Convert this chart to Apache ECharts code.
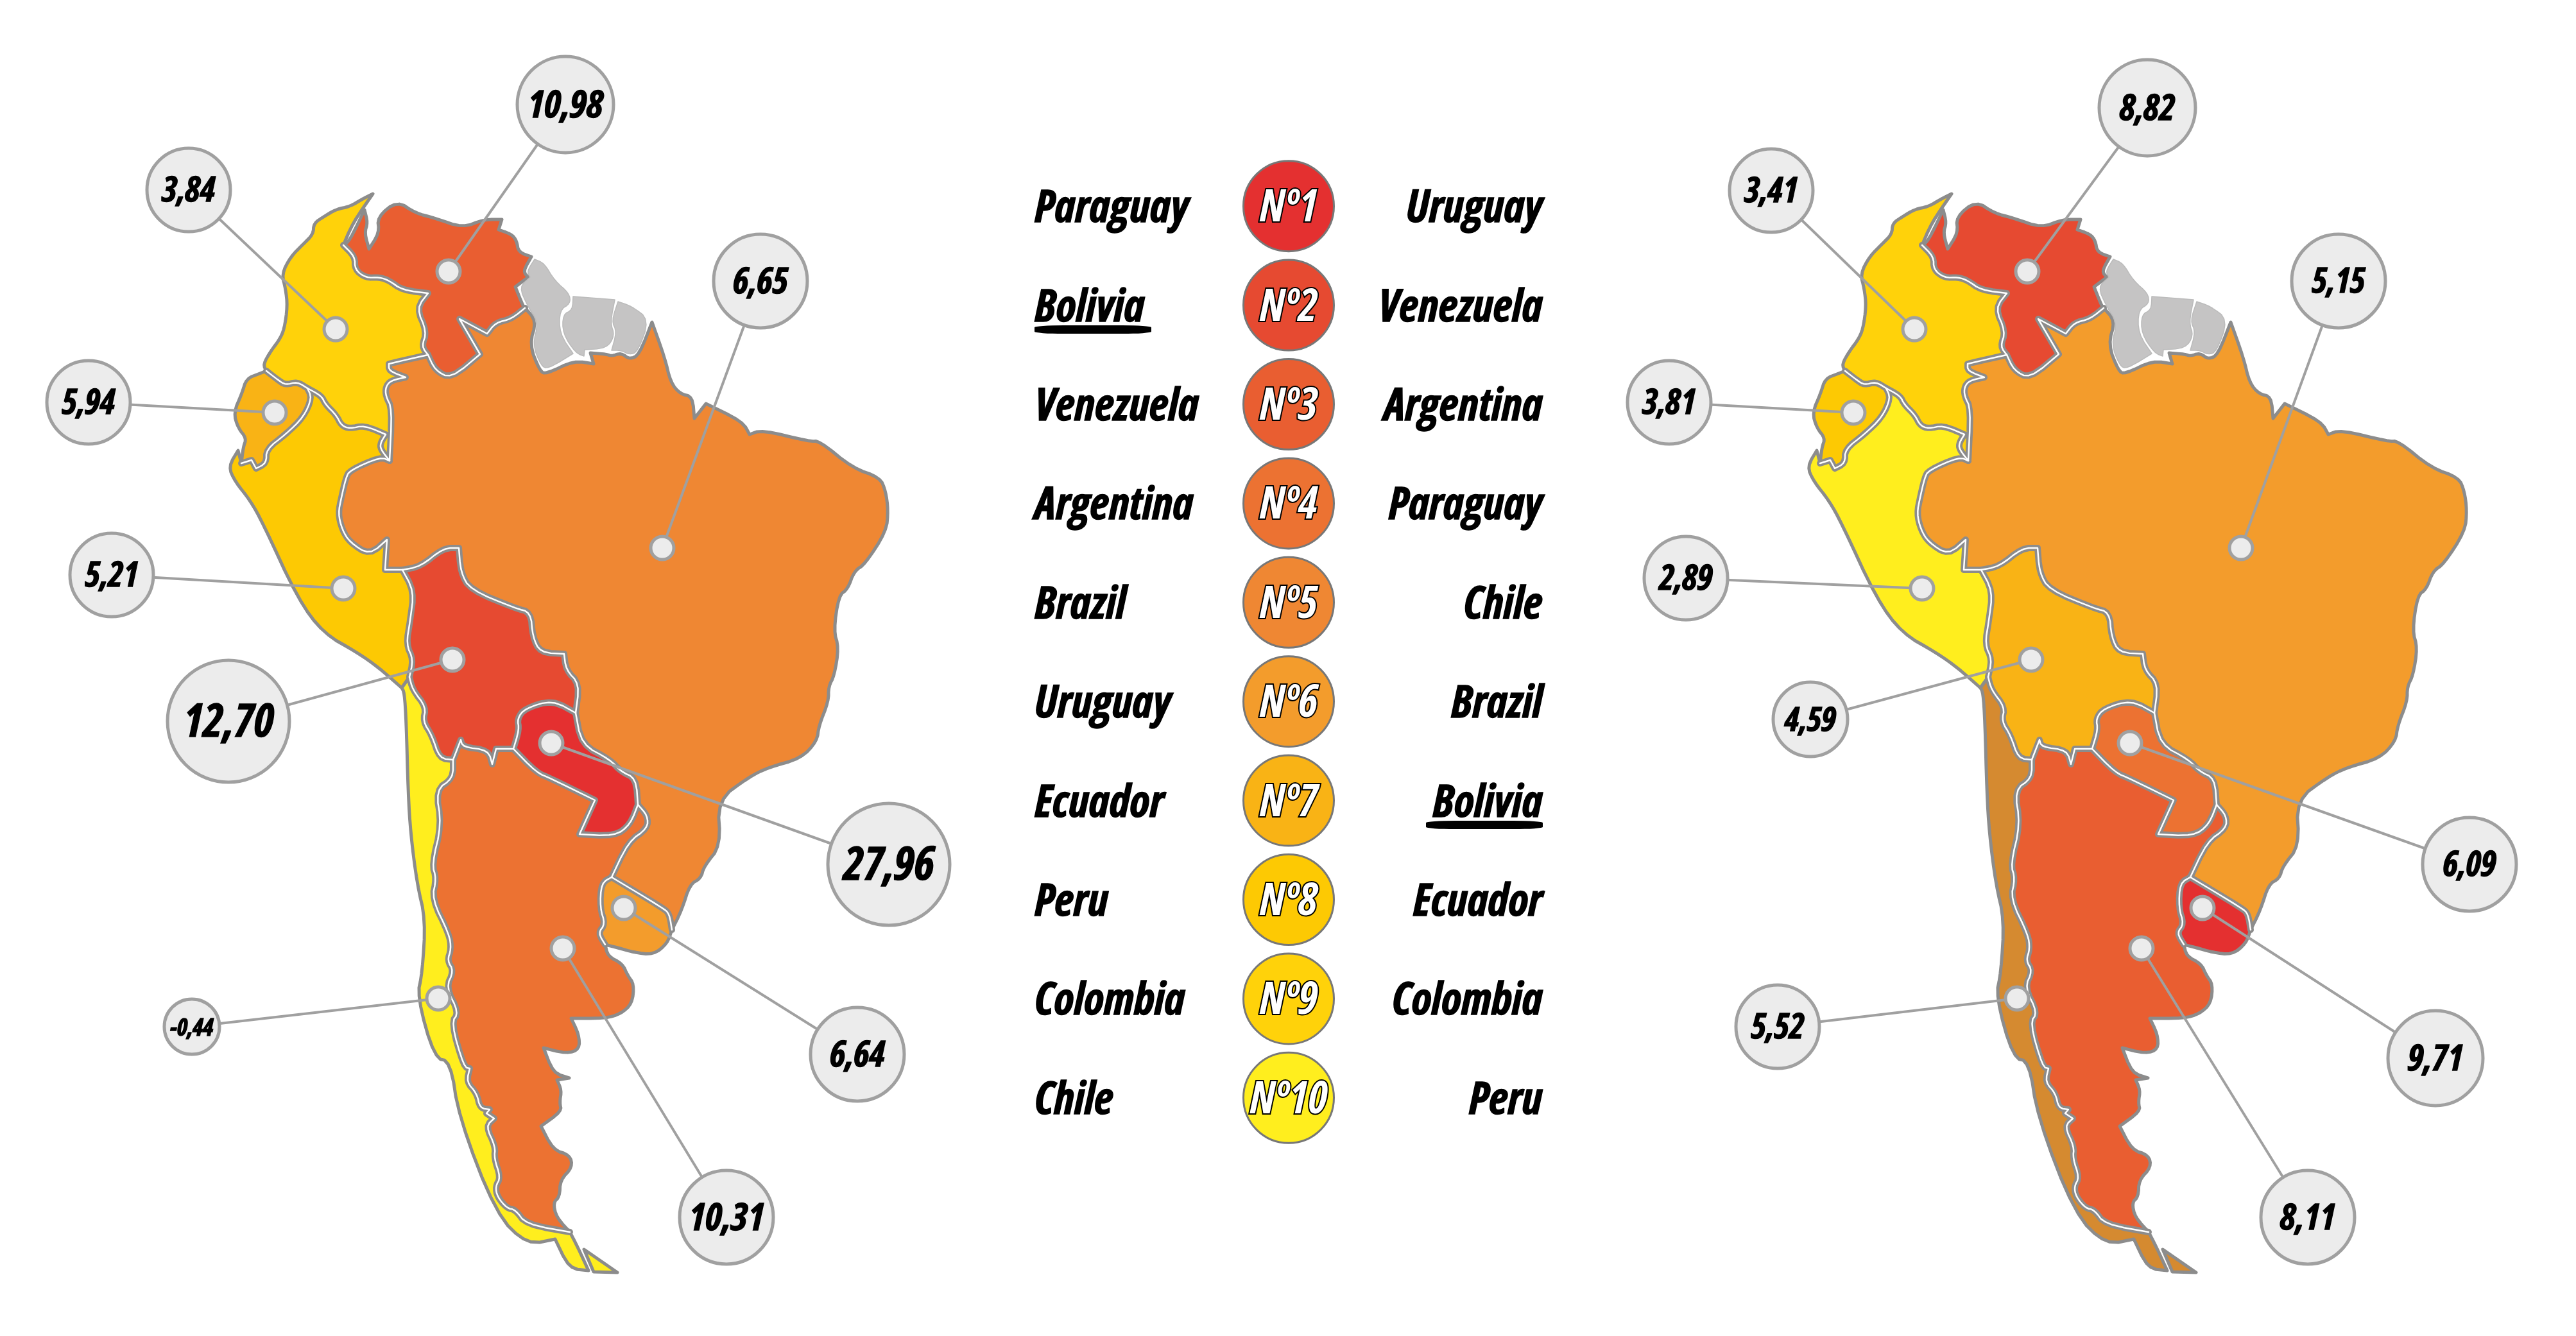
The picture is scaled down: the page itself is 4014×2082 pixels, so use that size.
<!DOCTYPE html>
<html>
<head>
<meta charset="utf-8">
<style>html,body{margin:0;padding:0;background:#fff}#c{width:4014px;height:2082px}</style>
<script src="https://cdn.jsdelivr.net/npm/echarts@6/dist/echarts.min.js"></script>
</head>
<body>
<div id="c"></div>
<script>
// ---- DATA ----
const countries   = ['Paraguay','Bolivia','Venezuela','Argentina','Brazil','Uruguay','Ecuador','Peru','Colombia','Chile'];
const valuesLeft  = [27.96,12.70,10.98,10.31,6.65,6.64,5.94,5.21,3.84,-0.44];
const valuesRight = [6.09,4.59,8.82,8.11,5.15,9.71,3.81,2.89,3.41,5.52];
const rankLabels  = ['Nº1','Nº2','Nº3','Nº4','Nº5','Nº6','Nº7','Nº8','Nº9','Nº10'];
const highlighted = 'Bolivia';

// ---- COLOURS ----
const rankColors = ['#E43030','#E64A31','#E95E31','#EC7232','#EF8733','#F39C2C','#F9B315','#FDC903','#FFD20A','#FFEE1E'];
const noDataColor = '#C5C4C4';
const overridesRight = {Chile:'#D58A30'};

// ---- CALLOUT LAYOUT (map pixels: x, y, diameter, font size) ----
const dotPositions = {Paraguay:[859,1158],Bolivia:[705,1028],Venezuela:[699,423],Argentina:[877,1478],Brazil:[1032,854],Uruguay:[972,1415],Ecuador:[428,643],Peru:[535,917],Colombia:[523,513],Chile:[683,1556]};
const calloutsLeft = {Paraguay:[1385,1347,190,72],Bolivia:[356,1124,190,72],Venezuela:[881,163,150,60],Argentina:[1132,1897,146,60],Brazil:[1185,438,146,56],Uruguay:[1336,1643,146,56],Ecuador:[138,627,130,54],Peru:[174,896,130,54],Colombia:[294,296,130,54],Chile:[299,1600,86,37]};
const calloutsRight = {Paraguay:[1388,1347,146,54],Bolivia:[361,1121,116,52],Venezuela:[886,168,150,56],Argentina:[1136,1897,146,56],Brazil:[1184,438,146,54],Uruguay:[1335,1649,148,56],Ecuador:[141,627,130,54],Peru:[167,901,130,54],Colombia:[300,297,130,54],Chile:[310,1600,130,54]};
const mapOffsetRight = 2460;

// ---- MAP OUTLINES (shared borders, map pixels) ----
const rawArcs = {
 colCoast:[[581,302],[565,310],[545,322],[524,326],[504,338],[489,348],[488,365],[473,380],[453,400],[439,427],[445,450],[448,477],[443,513],[435,530],[422,547],[410,568],[415,578]],
 colGulf:[[581,302],[550,347],[535,382]],
 colVen:[[535,382],[553,400],[553,420],[570,433],[591,432],[606,437],[627,452],[667,457],[649,480],[665,517],[657,540],[667,553]],
 colBrazil:[[667,553],[627,562],[606,567],[606,578],[632,588],[609,593],[601,603],[601,617],[611,637],[607,718]],
 colPeru:[[479,605],[501,617],[507,630],[524,647],[532,663],[545,668],[568,663],[601,677],[593,690],[593,700],[607,718]],
 colEcu:[[415,578],[433,592],[445,600],[463,595],[479,605]],
 ecuCoast:[[415,578],[405,582],[384,590],[377,613],[364,643],[371,667],[384,683],[379,697],[376,722]],
 ecuPeru:[[376,722],[392,717],[399,730],[415,722],[415,700],[445,677],[473,650],[486,620],[479,605]],
 peruCoast:[[376,722],[371,702],[356,727],[366,750],[390,780],[410,816],[464,933],[504,987],[557,1017],[591,1041],[626,1072]],
 peruBrazil:[[607,718],[593,712],[545,733],[539,745],[532,775],[527,800],[533,825],[545,845],[576,865],[603,841],[600,888],[627,888]],
 peruBolivia:[[627,888],[645,921],[639,968],[633,1004],[644,1028],[638,1055]],
 peruChile:[[638,1055],[626,1072]],
 bolChile:[[638,1055],[643,1075],[664,1102],[659,1124],[673,1146],[685,1182],[706,1184]],
 bolBrazil:[[627,888],[655,883],[691,854],[715,854],[718,892],[733,919],[803,948],[827,954],[830,992],[842,1017],[879,1019],[882,1044],[903,1066],[897,1111]],
 bolPar:[[800,1167],[809,1137],[806,1120],[818,1104],[861,1091],[897,1111]],
 bolArg:[[706,1184],[718,1153],[721,1164],[761,1169],[767,1191],[773,1167],[800,1167]],
 parBrazil:[[897,1111],[906,1160],[951,1184],[967,1202],[991,1213],[994,1254]],
 parArg:[[800,1167],[836,1204],[858,1213],[927,1247],[903,1300],[958,1303],[982,1285],[994,1254]],
 argBrazil:[[994,1254],[1009,1271],[1009,1291],[979,1312],[953,1367]],
 uruBrazil:[[953,1367],[1033,1415],[1043,1424],[1047,1449]],
 uruArg:[[953,1367],[937,1376],[935,1415],[943,1440],[932,1454],[943,1472]],
 uruCoast:[[943,1472],[963,1477],[987,1484],[1018,1488],[1040,1470],[1047,1449]],
 brazilCoast:[[1047,1449],[1062,1419],[1075,1378],[1092,1369],[1097,1350],[1123,1318],[1118,1247],[1167,1211],[1197,1196],[1248,1182],[1273,1155],[1276,1131],[1291,1093],[1291,1070],[1300,1053],[1307,1009],[1299,983],[1307,928],[1321,918],[1331,890],[1348,879],[1381,828],[1384,795],[1380,765],[1371,744],[1328,729],[1277,687],[1261,688],[1187,670],[1168,677],[1157,657],[1100,629],[1082,652],[1079,618],[1060,614],[1045,596],[1036,558],[1016,502]],
 brazilGuianas:[[1016,502],[996,553],[981,560],[968,550],[953,555],[945,552],[920,550],[925,567],[894,562],[851,583],[841,578],[825,537],[836,500],[818,480]],
 venBrazil:[[818,480],[797,497],[772,503],[759,520],[716,497],[748,552],[703,590],[678,577],[667,553]],
 venCoast:[[535,382],[545,375],[568,327],[573,347],[568,363],[575,388],[591,363],[588,338],[619,313],[647,332],[678,340],[721,355],[754,342],[782,342],[777,358],[797,365],[805,375],[808,393],[828,400],[815,423],[823,432],[803,447],[815,477],[818,480]],
 argCoast:[[943,1472],[947,1490],[970,1502],[978,1520],[988,1534],[985,1564],[967,1580],[943,1587],[890,1587],[902,1612],[903,1635],[883,1642],[847,1633],[862,1672],[887,1680],[868,1683],[875,1699],[872,1718],[875,1732],[843,1755],[862,1792],[888,1800],[892,1819],[873,1839],[872,1865],[862,1874],[867,1897],[888,1920]],
 chileArg:[[706,1184],[706,1213],[679,1231],[688,1285],[673,1347],[680,1369],[673,1401],[700,1456],[703,1479],[697,1497],[707,1513],[695,1539],[715,1578],[703,1594],[723,1663],[732,1665],[727,1686],[743,1704],[748,1727],[763,1729],[758,1735],[770,1743],[757,1755],[772,1787],[770,1805],[780,1835],[772,1849],[775,1865],[790,1883],[803,1885],[820,1908],[888,1920]],
 chileCoast:[[626,1072],[630,1079],[633,1124],[636,1236],[640,1300],[650,1378],[663,1433],[658,1516],[650,1553],[677,1649],[702,1654],[715,1741],[773,1892],[822,1940],[865,1931],[887,1977],[917,1980],[900,1943],[888,1920]]
};
const regionArcs = {
 Colombia:['colCoast','colEcu','colPeru','-colBrazil','-colVen','-colGulf'],
 Venezuela:['venCoast','venBrazil','-colVen'],
 Ecuador:['ecuCoast','ecuPeru','-colEcu'],
 Peru:['peruCoast','-peruChile','-peruBolivia','-peruBrazil','-colPeru','-ecuPeru'],
 Bolivia:['bolBrazil','-bolPar','-bolArg','-bolChile','-peruBolivia'],
 Paraguay:['parBrazil','-parArg','bolPar'],
 Uruguay:['uruBrazil','-uruCoast','-uruArg'],
 Argentina:['bolArg','parArg','argBrazil','uruArg','argCoast','-chileArg'],
 Chile:['-peruChile','bolChile','chileArg','-chileCoast'],
 Brazil:['brazilCoast','brazilGuianas','venBrazil','colBrazil','peruBrazil','bolBrazil','parBrazil','argBrazil','uruBrazil']
};
const extraRings = {Chile:[[[910,1947],[962,1983],[925,1982],[910,1947]]]};
const noDataRegions = {
 Guyana:[[833,404],[848,410],[864,437],[887,457],[889,473],[872,483],[872,520],[893,551],[854,575],[843,570],[830,537],[839,503],[822,477],[809,447],[826,432],[821,423],[833,404]],
 Suriname:[[893,462],[958,467],[951,503],[958,523],[945,543],[911,545],[910,555],[897,550],[877,520],[877,490],[892,483],[893,462]],
 'French Guiana':[[963,470],[984,477],[1012,498],[994,548],[981,553],[968,546],[953,546],[961,517],[953,500],[963,470]]
};
const innerBorders = ['colEcu','colPeru','colBrazil','colVen','ecuPeru','peruBrazil','peruBolivia','bolChile','bolBrazil','bolPar','bolArg','parBrazil','parArg','argBrazil','uruBrazil','uruArg','chileArg','venBrazil'];

// ---- BUILD ----
// Round the gentle bends of an outline; sharp corners and arc ends stay as they are.
function roundArc(pts){
  let cur=pts;
  for(let pass=0;pass<2;pass++){
    const out=[cur[0]];
    for(let i=1;i<cur.length-1;i++){
      const a=cur[i-1],p=cur[i],b=cur[i+1];
      const t1=Math.atan2(p[1]-a[1],p[0]-a[0]),t2=Math.atan2(b[1]-p[1],b[0]-p[0]);
      let turn=Math.abs(t2-t1); if(turn>Math.PI) turn=2*Math.PI-turn;
      if(turn<1.3){
        out.push([p[0]+(a[0]-p[0])*0.25,p[1]+(a[1]-p[1])*0.25]);
        out.push([p[0]+(b[0]-p[0])*0.25,p[1]+(b[1]-p[1])*0.25]);
      } else out.push(p);
    }
    out.push(cur[cur.length-1]);
    cur=out;
  }
  return cur;
}
const arcs={};
Object.keys(rawArcs).forEach(k=>{arcs[k]=roundArc(rawArcs[k]);});
function ringOf(list){
  const out=[];
  list.forEach(k=>{
    const rev=k[0]==='-';
    const a=arcs[rev?k.slice(1):k];
    const pts=rev?a.slice().reverse():a;
    pts.forEach((p,i)=>{ if(i>0||out.length===0) out.push(p); });
  });
  return out;
}
const features=[];
Object.keys(regionArcs).forEach(n=>{
  const rings=[[ringOf(regionArcs[n])]];
  (extraRings[n]||[]).forEach(r=>rings.push([r]));
  features.push({type:'Feature',properties:{name:n},geometry:{type:'MultiPolygon',coordinates:rings}});
});
Object.keys(noDataRegions).forEach(n=>{
  features.push({type:'Feature',properties:{name:n},geometry:{type:'Polygon',coordinates:[roundArc(noDataRegions[n])]}});
});
echarts.registerMap('southAmerica',{type:'FeatureCollection',features});

let minX=1e9,minY=1e9,maxX=-1e9,maxY=-1e9;
features.forEach(f=>{
  const polys=f.geometry.type==='Polygon'?[f.geometry.coordinates]:f.geometry.coordinates;
  polys.forEach(poly=>poly.forEach(r=>r.forEach(p=>{
    minX=Math.min(minX,p[0]);maxX=Math.max(maxX,p[0]);
    minY=Math.min(minY,p[1]);maxY=Math.max(maxY,p[1]);
  })));
});

const textStyle={fontFamily:'"Open Sans","Roboto Condensed",sans-serif',fontWeight:'bold condensed',fontStyle:'italic'};
const heavy={textBorderColor:'#000',textBorderWidth:1.5};
const fmt=v=>v.toFixed(2).replace('.',',');

function ranked(values){
  return countries.map((c,i)=>({name:c,value:values[i]})).sort((a,b)=>b.value-a.value);
}
function geoOf(values,offset,overrides){
  const order=ranked(values);
  const regions=order.map((d,i)=>({name:d.name,itemStyle:{areaColor:overrides[d.name]||rankColors[i]}}));
  Object.keys(noDataRegions).forEach(n=>regions.push({name:n,itemStyle:{areaColor:noDataColor,borderColor:'#BBBBBB',borderWidth:1.5}}));
  return {
    map:'southAmerica',silent:true,roam:false,
    projection:{project:p=>p,unproject:p=>p},
    left:minX+offset,top:minY,width:maxX-minX,height:maxY-minY,
    itemStyle:{borderColor:'#8C8C8C',borderWidth:5,borderJoin:'round'},
    label:{show:false},emphasis:{disabled:true},select:{disabled:true},
    regions
  };
}
function mapSeries(values,callouts,geoIndex){
  const borderData=innerBorders.map(k=>({coords:arcs[k]}));
  const common={type:'lines',coordinateSystem:'geo',geoIndex,polyline:true,silent:true,data:borderData};
  return [
    Object.assign({},common,{z:3,lineStyle:{color:'#8C8C8C',width:10,opacity:1,cap:'round',join:'round'}}),
    Object.assign({},common,{z:4,lineStyle:{color:'#FFFFFF',width:2.5,opacity:1,cap:'round',join:'round'}}),
    {type:'lines',coordinateSystem:'geo',geoIndex,silent:true,z:5,
     lineStyle:{color:'#A0A0A0',width:4,opacity:1},
     data:countries.map(c=>({coords:[dotPositions[c],callouts[c].slice(0,2)]}))},
    {type:'scatter',coordinateSystem:'geo',geoIndex,silent:true,z:6,symbol:'circle',symbolSize:36,
     itemStyle:{color:'#ECECEC',borderColor:'#A0A0A0',borderWidth:5,opacity:1},
     data:countries.map(c=>({name:c,value:dotPositions[c]}))},
    {type:'scatter',coordinateSystem:'geo',geoIndex,silent:true,z:7,symbol:'circle',
     itemStyle:{color:'#ECECEC',borderColor:'#A0A0A0',borderWidth:5,opacity:1},
     data:countries.map((c,i)=>({
       name:c,value:callouts[c].slice(0,2),symbolSize:callouts[c][2],
       label:Object.assign({show:true,position:'inside',offset:[0,3],formatter:fmt(values[i]),color:'#000',fontSize:callouts[c][3]},textStyle,heavy)
     }))}
  ];
}
const nameLabel=(position)=>Object.assign({show:true,position,distance:0,offset:[0,5],color:'#000',fontSize:70,formatter:p=>p.name},textStyle,heavy);
const rows=i=>rankLabels[i];
function nameSeries(values,x,position){
  return {type:'scatter',xAxisIndex:0,yAxisIndex:0,silent:true,symbolSize:1,itemStyle:{color:'rgba(0,0,0,0)',opacity:1},z:8,
    label:nameLabel(position),
    data:ranked(values).map((d,i)=>({name:d.name,value:[x,rows(i)]}))};
}
function underlineSeries(values,x,sign){
  const idx=ranked(values).findIndex(d=>d.name===highlighted);
  return {type:'scatter',xAxisIndex:0,yAxisIndex:0,silent:true,symbol:'roundRect',symbolSize:[182,13],
    symbolOffset:[sign*91,38],itemStyle:{color:'#000',opacity:1},z:8,data:[[x,rows(idx)]]};
}
const option={
  backgroundColor:'#fff',animation:false,
  tooltip:{show:false},
  geo:[geoOf(valuesLeft,0,{}),geoOf(valuesRight,mapOffsetRight,overridesRight)],
  grid:{left:1612,width:792,top:244,height:1544},
  xAxis:{type:'value',min:-1,max:1,show:false},
  yAxis:{type:'category',inverse:true,show:false,data:rankLabels},
  series:[
    ...mapSeries(valuesLeft,calloutsLeft,0),
    ...mapSeries(valuesRight,calloutsRight,1),
    nameSeries(valuesLeft,-1,'right'),
    nameSeries(valuesRight,1,'left'),
    underlineSeries(valuesLeft,-1,1),
    underlineSeries(valuesRight,1,-1),
    {type:'scatter',xAxisIndex:0,yAxisIndex:0,silent:true,symbol:'circle',symbolSize:141,z:8,
     itemStyle:{borderColor:'#777777',borderWidth:3,opacity:1},
     data:rankLabels.map((r,i)=>({name:r,value:[0,r],itemStyle:{color:rankColors[i]},
       label:Object.assign({show:true,position:'inside',offset:[0,4],formatter:r,color:'#FFFFFF',textBorderColor:'#000',textBorderWidth:4,fontSize:70},textStyle)}))}
  ]
};
const chart=echarts.init(document.getElementById('c'),null,{renderer:'canvas',width:4014,height:2082});
chart.setOption(option);
</script>
</body>
</html>
